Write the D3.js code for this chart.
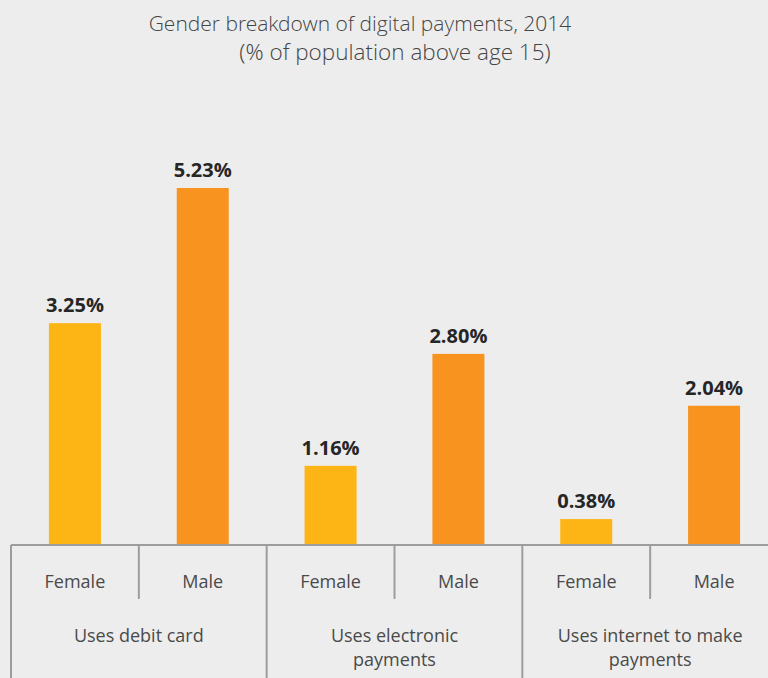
<!DOCTYPE html>
<html>
<head>
<meta charset="UTF-8">
<title>Gender breakdown of digital payments</title>
<script src="https://cdn.jsdelivr.net/npm/d3@7/dist/d3.min.js"></script>
<style>
  html, body { margin: 0; padding: 0; background: #ededed; }
  #canvas { width: 768px; height: 678px; }
  text { font-family: "Open Sans", "Noto Sans", sans-serif; }
  .title { font-family: "Open Sans Light", "Open Sans", sans-serif; }
</style>
</head>
<body>
<div id="canvas"></div>
<script>
// data
var categories = ["Uses debit card", "Uses electronic payments", "Uses internet to make payments"];
var categoryLines = [["Uses debit card"], ["Uses electronic", "payments"], ["Uses internet to make", "payments"]];
var genders = ["Female", "Male"];
var female = [3.25, 1.16, 0.38];
var male = [5.23, 2.80, 2.04];
var titleLines = ["Gender breakdown of digital payments, 2014", "(% of population above age 15)"];

var colors = {Female: "#fdb515", Male: "#f7931e"};

var W = 768, H = 678;
var baseY = 545;

var rows = [];
categories.forEach(function(c, i) {
  rows.push({cat: c, gender: "Female", value: female[i]});
  rows.push({cat: c, gender: "Male", value: male[i]});
});

var svg = d3.select("#canvas").append("svg")
  .attr("width", W).attr("height", H);

svg.append("rect").attr("width", W).attr("height", H).attr("fill", "#ededed");

// scales
var x0 = d3.scaleBand().domain(categories).range([11, 778]);
var x1 = d3.scaleBand().domain(genders).range([0, x0.bandwidth()]);
var y = d3.scaleLinear().domain([0, 5.23]).range([baseY, 188]);
var barW = 52;

// title
svg.selectAll(".title").data(titleLines).enter().append("text")
  .attr("class", "title")
  .attr("x", function(d, i) { return i == 0 ? 360 : 395; })
  .attr("y", function(d, i) { return 31 + i * 29; })
  .attr("text-anchor", "middle")
  .attr("font-size", function(d, i) { return i == 0 ? 21 : 22.5; })
  .attr("font-weight", 300)
  .attr("fill", "#444")
  .text(function(d) { return d; });

// bars
svg.selectAll(".bar").data(rows).enter().append("rect")
  .attr("class", "bar")
  .attr("x", function(d) { return x0(d.cat) + x1(d.gender) + (x1.bandwidth() - barW) / 2; })
  .attr("width", barW)
  .attr("y", function(d) { return y(d.value); })
  .attr("height", function(d) { return baseY - y(d.value); })
  .attr("fill", function(d) { return colors[d.gender]; });

// value labels
svg.selectAll(".val").data(rows).enter().append("text")
  .attr("class", "val")
  .attr("x", function(d) { return x0(d.cat) + x1(d.gender) + x1.bandwidth() / 2; })
  .attr("y", function(d) { return y(d.value) - 11; })
  .attr("text-anchor", "middle")
  .attr("font-size", 20)
  .attr("font-weight", 700)
  .attr("fill", "#262626")
  .text(function(d) { return d.value.toFixed(2) + "%"; });

// axis lines
var lineColor = "#9d9d9f";
svg.append("line")
  .attr("x1", 11).attr("x2", W).attr("y1", baseY).attr("y2", baseY)
  .attr("stroke", lineColor).attr("stroke-width", 2);

categories.forEach(function(c) {
  svg.append("line")
    .attr("x1", x0(c)).attr("x2", x0(c)).attr("y1", baseY).attr("y2", H)
    .attr("stroke", lineColor).attr("stroke-width", 2);
  svg.append("line")
    .attr("x1", x0(c) + x1("Male")).attr("x2", x0(c) + x1("Male"))
    .attr("y1", baseY).attr("y2", 599)
    .attr("stroke", lineColor).attr("stroke-width", 2);
});

// gender labels
svg.selectAll(".glab").data(rows).enter().append("text")
  .attr("class", "glab")
  .attr("x", function(d) { return x0(d.cat) + x1(d.gender) + x1.bandwidth() / 2; })
  .attr("y", 588)
  .attr("text-anchor", "middle")
  .attr("font-size", 18)
  .attr("fill", "#4a4a4a")
  .text(function(d) { return d.gender; });

// category labels
categories.forEach(function(c, i) {
  var t = svg.append("text")
    .attr("text-anchor", "middle")
    .attr("font-size", 18)
    .attr("fill", "#4a4a4a");
  categoryLines[i].forEach(function(line, j) {
    t.append("tspan")
      .attr("x", x0(c) + x0.bandwidth() / 2)
      .attr("y", 642 + j * 24)
      .text(line);
  });
});
</script>
</body>
</html>
